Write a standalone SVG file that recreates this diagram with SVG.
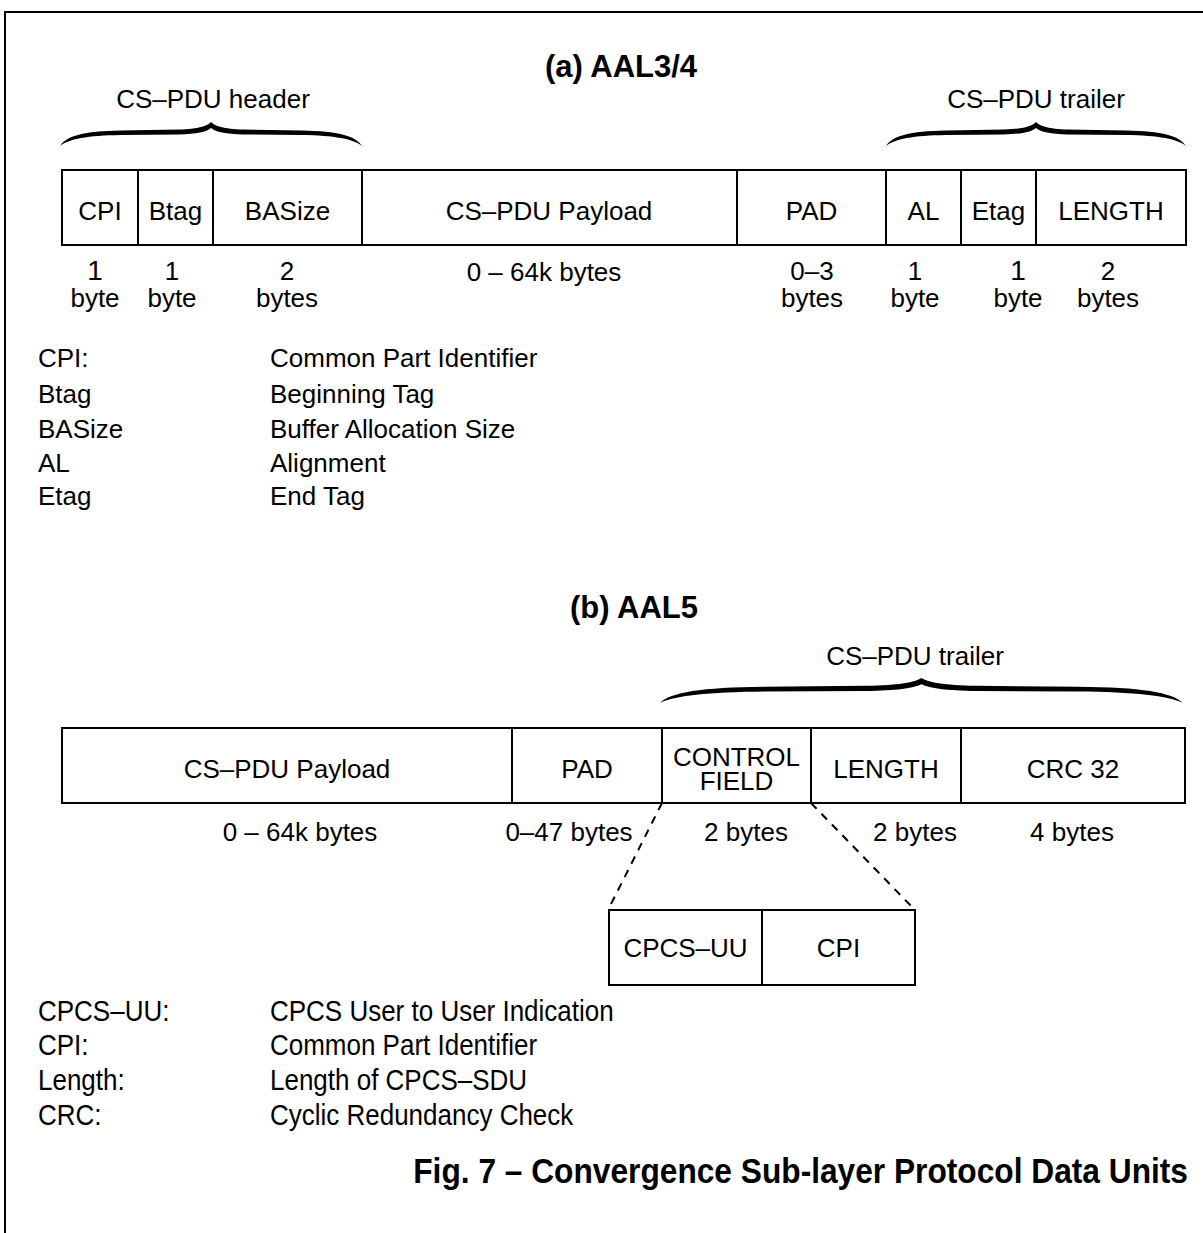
<svg xmlns="http://www.w3.org/2000/svg" width="1203" height="1233" viewBox="0 0 1203 1233">
<style>
text{font-family:"Liberation Sans",Arial,sans-serif;font-size:26px;fill:#000}
.c{text-anchor:middle}
.t{font-weight:bold;font-size:31px;text-anchor:middle}
.f{fill:#fff;stroke:#000;stroke-width:2}
.ln{stroke:#000;stroke-width:2;fill:none}
.d{stroke:#000;stroke-width:2;fill:none;stroke-dasharray:8,7}
.br{fill:#000}
</style>
<defs>
<path id="brace" d="M0,24 C6,14 24,9 60,8.5 L118,7.5 C138,7 146,4 150,0 C154,4 162,7 182,7.5 L240,8.5 C276,9 294,14 300,24 C292,17 272,13.5 240,13 L182,12.5 C164,12 155,10 150,6 C145,10 136,12 118,12.5 L60,13 C28,13.5 8,17 0,24 Z"/>
</defs>
<rect width="1203" height="1233" fill="#fff"/>
<path class="ln" d="M5,1233 L5,12 L1203,12"/>

<text class="t" x="621" y="77">(a) AAL3/4</text>

<g id="header-brace">
<text class="c" x="213" y="108">CS–PDU header</text>
<use href="#brace" class="br" transform="translate(60,122) scale(1.007,1)"/>
</g>
<g id="trailer-brace-a">
<text class="c" x="1036" y="108">CS–PDU trailer</text>
<use href="#brace" class="br" transform="translate(886,122)"/>
</g>

<g id="pdu-a">
<g id="a-cpi"><rect class="f" x="62" y="170" width="76" height="75"/><text class="c" x="100" y="220">CPI</text></g>
<g id="a-btag"><rect class="f" x="138" y="170" width="75" height="75"/><text class="c" x="175.5" y="220">Btag</text></g>
<g id="a-basize"><rect class="f" x="213" y="170" width="149" height="75"/><text class="c" x="287.5" y="220">BASize</text></g>
<g id="a-payload"><rect class="f" x="362" y="170" width="375" height="75"/><text class="c" x="549" y="220">CS–PDU Payload</text></g>
<g id="a-pad"><rect class="f" x="737" y="170" width="149" height="75"/><text class="c" x="811.5" y="220">PAD</text></g>
<g id="a-al"><rect class="f" x="886" y="170" width="75" height="75"/><text class="c" x="923.5" y="220">AL</text></g>
<g id="a-etag"><rect class="f" x="961" y="170" width="75" height="75"/><text class="c" x="998.5" y="220">Etag</text></g>
<g id="a-length"><rect class="f" x="1036" y="170" width="150" height="75"/><text class="c" x="1111" y="220">LENGTH</text></g>
</g>

<g id="sizes-a">
<text class="c" x="95" y="280" style="font-size:28px">1</text><text class="c" x="95" y="307">byte</text>
<text class="c" x="172" y="280">1</text><text class="c" x="172" y="307">byte</text>
<text class="c" x="287" y="280">2</text><text class="c" x="287" y="307">bytes</text>
<text class="c" x="544" y="281">0 – 64k bytes</text>
<text class="c" x="812" y="280">0–3</text><text class="c" x="812" y="307">bytes</text>
<text class="c" x="915" y="280">1</text><text class="c" x="915" y="307">byte</text>
<text class="c" x="1018" y="280" style="font-size:28px">1</text><text class="c" x="1018" y="307">byte</text>
<text class="c" x="1108" y="280">2</text><text class="c" x="1108" y="307">bytes</text>
</g>

<g id="legend-a">
<text x="38" y="367">CPI:</text><text x="270" y="367">Common Part Identifier</text>
<text x="38" y="403">Btag</text><text x="270" y="403">Beginning Tag</text>
<text x="38" y="438">BASize</text><text x="270" y="438">Buffer Allocation Size</text>
<text x="38" y="472">AL</text><text x="270" y="472">Alignment</text>
<text x="38" y="505">Etag</text><text x="270" y="505">End Tag</text>
</g>

<text class="t" x="634" y="618">(b) AAL5</text>

<g id="trailer-brace-b">
<text class="c" x="915" y="665">CS–PDU trailer</text>
<use href="#brace" class="br" transform="translate(660,678) scale(1.743,1.04)"/>
</g>

<g id="pdu-b">
<g id="b-payload"><rect class="f" x="62" y="728" width="450" height="75"/><text class="c" x="287" y="778">CS–PDU Payload</text></g>
<g id="b-pad"><rect class="f" x="512" y="728" width="150" height="75"/><text class="c" x="587" y="778">PAD</text></g>
<g id="b-control"><rect class="f" x="662" y="728" width="149" height="75"/><text class="c" x="736.5" y="766">CONTROL</text><text class="c" x="736.5" y="790">FIELD</text></g>
<g id="b-length"><rect class="f" x="811" y="728" width="150" height="75"/><text class="c" x="886" y="778">LENGTH</text></g>
<g id="b-crc"><rect class="f" x="961" y="728" width="224" height="75"/><text class="c" x="1073" y="778">CRC 32</text></g>
</g>

<g id="sizes-b">
<text class="c" x="300" y="841">0 – 64k bytes</text>
<text class="c" x="569" y="841">0–47 bytes</text>
<text class="c" x="746" y="841">2 bytes</text>
<text class="c" x="915" y="841">2 bytes</text>
<text class="c" x="1072" y="841">4 bytes</text>
</g>

<g id="connectors">
<line class="d" x1="662" y1="803" x2="609" y2="908"/>
<line class="d" x1="811" y1="803" x2="913" y2="908"/>
</g>

<g id="control-field">
<g id="cf-uu"><rect class="f" x="609" y="910" width="153" height="75"/><text class="c" x="685.5" y="957">CPCS–UU</text></g>
<g id="cf-cpi"><rect class="f" x="762" y="910" width="153" height="75"/><text class="c" x="838.5" y="957">CPI</text></g>
</g>

<g id="legend-b">
<text transform="matrix(1,0,0,1.15,38,1021)">CPCS–UU:</text><text transform="matrix(1,0,0,1.15,270,1021)">CPCS User to User Indication</text>
<text transform="matrix(1,0,0,1.15,38,1055)">CPI:</text><text transform="matrix(1,0,0,1.15,270,1055)">Common Part Identifier</text>
<text transform="matrix(1,0,0,1.15,38,1090)">Length:</text><text transform="matrix(1,0,0,1.15,270,1090)">Length of CPCS–SDU</text>
<text transform="matrix(1,0,0,1.15,38,1125)">CRC:</text><text transform="matrix(1,0,0,1.15,270,1125)">Cyclic Redundancy Check</text>
</g>

<text transform="matrix(1,0,0,1.12,1188,1183)" style="font-weight:bold;font-size:31.7px;text-anchor:end">Fig. 7 – Convergence Sub-layer Protocol Data Units</text>
</svg>
